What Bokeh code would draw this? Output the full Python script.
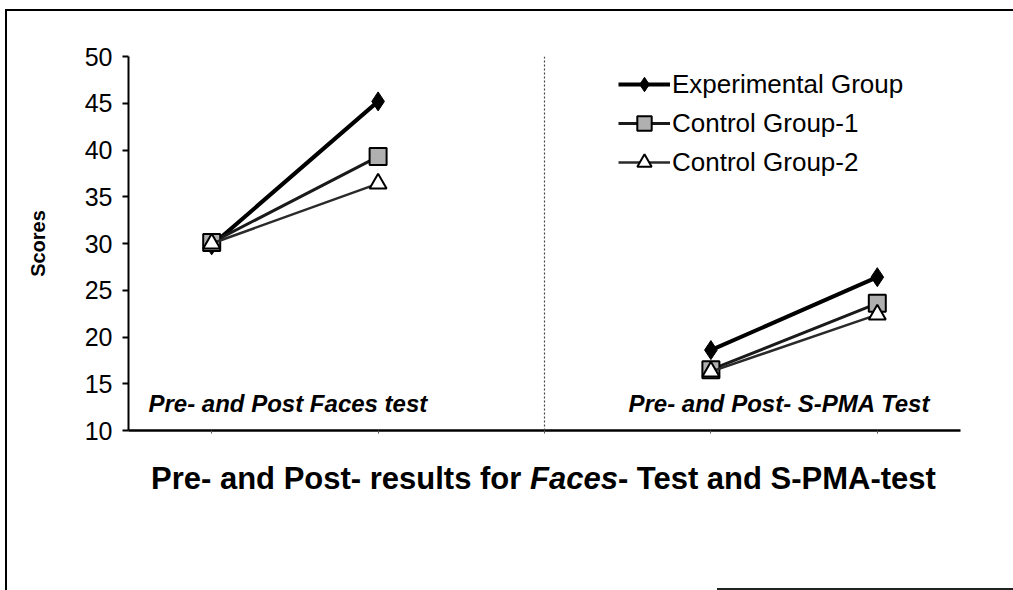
import math
from bokeh.plotting import figure
from bokeh.layouts import column
from bokeh.models import Range1d, Label, Span, Legend, FixedTicker, Div
from bokeh.embed import file_html
from bokeh.resources import INLINE

# ---- data ----
positions = [1, 2, 3, 4, 5]          # Faces pre, Faces post, (gap), S-PMA pre, S-PMA post
experimental = [29.8, 45.2, math.nan, 18.6, 26.4]
control_1 = [30.1, 39.3, math.nan, 16.5, 23.6]
control_2 = [30.0, 36.4, math.nan, 16.3, 22.4]
y_ticks = [10, 15, 20, 25, 30, 35, 40, 45, 50]
panel_captions = ["Pre- and Post Faces test", "Pre- and Post- S-PMA Test"]

FONT = "Liberation Sans"

# column origin on page: (7, 11)
p = figure(width=1005, height=439, output_backend="svg", toolbar_location=None,
           x_range=Range1d(0.5, 5.5), y_range=Range1d(10, 50),
           min_border_left=121, min_border_right=52, min_border_top=45, min_border_bottom=20,
           background_fill_color="white", border_fill_color="white")
p.outline_line_color = None
p.grid.visible = False

# axes
p.xaxis.ticker = FixedTicker(ticks=positions)
p.xaxis.major_label_text_font_size = "1px"
p.xaxis.major_label_text_color = "white"
p.xaxis.major_label_standoff = 0
p.xaxis.major_tick_out = 3
p.xaxis.major_tick_in = 0
p.xaxis.major_tick_line_color = "#555555"
p.xaxis.minor_tick_line_color = None
p.xaxis.axis_line_width = 2.5
p.xaxis.axis_line_color = "black"

p.yaxis.ticker = FixedTicker(ticks=y_ticks)
p.yaxis.minor_tick_line_color = None
p.yaxis.major_tick_out = 6
p.yaxis.major_tick_in = 0
p.yaxis.major_tick_line_width = 2
p.yaxis.axis_line_width = 2
p.yaxis.major_label_text_font = FONT
p.yaxis.major_label_text_font_size = "25px"
p.yaxis.major_label_text_color = "black"
p.yaxis.major_label_standoff = 10
p.yaxis.axis_label = "Scores"
p.yaxis.axis_label_text_font = FONT
p.yaxis.axis_label_text_font_size = "20px"
p.yaxis.axis_label_text_font_style = "bold"
p.yaxis.axis_label_text_color = "black"
p.yaxis.axis_label_standoff = 33

# divider
p.add_layout(Span(location=3, dimension="height", line_color="#444444",
                  line_width=1.2, line_dash="2 2"))

# series
r_exp_l = p.line(positions, experimental, line_color="black", line_width=4)
r_exp_m = p.scatter(positions, experimental, marker="diamond", size=19,
                    fill_color="black", line_color="black")
r_c1_l = p.line(positions, control_1, line_color="#1a1a1a", line_width=3)
r_c1_m = p.scatter(positions, control_1, marker="square", size=17,
                   fill_color="#b0b0b0", line_color="black", line_width=2)
r_c2_l = p.line(positions, control_2, line_color="#2a2a2a", line_width=2.5)
r_c2_m = p.scatter(positions, control_2, marker="triangle", size=17,
                   fill_color="white", line_color="black", line_width=2)

legend = Legend(items=[("Experimental Group", [r_exp_l, r_exp_m]),
                       ("Control Group-1", [r_c1_l, r_c1_m]),
                       ("Control Group-2", [r_c2_l, r_c2_m])],
                location=(490, 250), border_line_color=None, background_fill_alpha=0,
                label_text_font=FONT, label_text_font_size="26px", label_text_color="black",
                glyph_width=52, glyph_height=36, label_height=36, spacing=3,
                padding=0, margin=0, label_standoff=2)
p.add_layout(legend, "center")

# panel captions (screen offsets from frame bottom-left)
for txt, x in zip(panel_captions, [20, 500]):
    p.add_layout(Label(x=x, y=27, x_units="screen", y_units="screen", text=txt,
                       text_font=FONT, text_font_size="24px", text_font_style="bold italic",
                       text_color="black", text_baseline="alphabetic", text_align="left"))

# overall x title (mixed italics) as a Div under the figure
title = Div(text=("<div style=\"font-family: 'Liberation Sans', Arial, sans-serif; "
                  "font-weight: bold; font-size: 31px; line-height: 36px; "
                  "color: black; white-space: nowrap;\">"
                  "Pre- and Post- results for <i>Faces</i>- Test and S-PMA-test</div>"),
            width=1005, height=135,
            styles={"padding-left": "139px", "padding-top": "6px", "box-sizing": "border-box",
                    "background": "linear-gradient(#222, #222) no-repeat right bottom / 300px 2px"})

layout = column(p, title, spacing=0,
                styles={"position": "relative", "left": "5px", "top": "9px",
                        "border-left": "2px solid black", "border-top": "2px solid black",
                        "border-right": "none", "border-bottom": "none"})

open("out.html", "w").write(file_html(layout, INLINE))
